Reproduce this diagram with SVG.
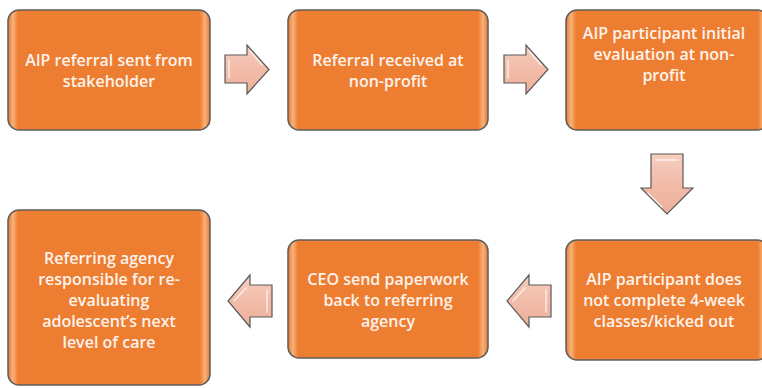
<svg xmlns="http://www.w3.org/2000/svg" width="762" height="388" viewBox="0 0 762 388">
  <defs>
    <linearGradient id="boxFill" x1="0" y1="0" x2="1" y2="0">
      <stop offset="0" stop-color="#E9782E"/>
      <stop offset="0.025" stop-color="#F7B27A"/>
      <stop offset="0.05" stop-color="#ED7D31"/>
      <stop offset="0.95" stop-color="#ED7D31"/>
      <stop offset="0.975" stop-color="#F7B27A"/>
      <stop offset="1" stop-color="#E9782E"/>
    </linearGradient>
    <linearGradient id="arrowFill" x1="0" y1="0" x2="0" y2="1">
      <stop offset="0" stop-color="#F6CDBE"/>
      <stop offset="0.5" stop-color="#F2BCA9"/>
      <stop offset="1" stop-color="#EDB09B"/>
    </linearGradient>
  </defs>
  <style>
    .box { fill: url(#boxFill); stroke: #5E5E5E; stroke-width: 1.5; }
    .arrow { fill: url(#arrowFill); stroke: #595959; stroke-width: 1.2; stroke-linejoin: miter; }
    .shine { fill: none; stroke: #FFFFFF; stroke-opacity: 0.7; stroke-width: 1.5; stroke-linecap: round; }
    .label { font-family: "Open Sans", "Liberation Sans", sans-serif; font-size: 16px; font-weight: 600; fill: #FDF3EC; text-anchor: middle; }
  </style>

  <!-- process steps -->
  <g id="step1">
    <rect class="box" x="8" y="10" width="202" height="120" rx="11"/>
    <text class="label" x="109" y="66">AIP referral sent from</text>
    <text class="label" x="109" y="87">stakeholder</text>
  </g>
  <g id="step2">
    <rect class="box" x="288" y="10" width="200" height="120" rx="11"/>
    <text class="label" x="388" y="66">Referral received at</text>
    <text class="label" x="388" y="87">non-profit</text>
  </g>
  <g id="step3">
    <rect class="box" x="566" y="10" width="202" height="120" rx="11"/>
    <text class="label" x="664" y="39">AIP participant initial</text>
    <text class="label" x="664" y="60">evaluation at non-</text>
    <text class="label" x="664" y="81">profit</text>
  </g>
  <g id="step4">
    <rect class="box" x="566" y="240" width="202" height="120" rx="11"/>
    <text class="label" x="664" y="285">AIP participant does</text>
    <text class="label" x="664" y="306">not complete 4-week</text>
    <text class="label" x="664" y="327">classes/kicked out</text>
  </g>
  <g id="step5">
    <rect class="box" x="288" y="240" width="200" height="118" rx="11"/>
    <text class="label" x="388" y="285">CEO send paperwork</text>
    <text class="label" x="388" y="306">back to referring</text>
    <text class="label" x="388" y="327">agency</text>
  </g>
  <g id="step6">
    <rect class="box" x="8" y="210" width="202" height="175" rx="11"/>
    <text class="label" x="109" y="264">Referring agency</text>
    <text class="label" x="109" y="285">responsible for re-</text>
    <text class="label" x="109" y="306">evaluating</text>
    <text class="label" x="109" y="327">adolescent’s next</text>
    <text class="label" x="109" y="348">level of care</text>
  </g>

  <!-- connectors: block arrows -->
  <g id="connectors">
    <g>
      <path class="arrow" d="M225 55 H247 V45 L269 69.5 L247 94 V83 H225 Z"/>
      <path class="shine" d="M229 60 V78 M250 51 L262 65"/>
    </g>
    <g>
      <path class="arrow" d="M504 55 H526 V45 L548 69.5 L526 94 V83 H504 Z"/>
      <path class="shine" d="M508 60 V78 M529 51 L541 65"/>
    </g>
    <g>
      <path class="arrow" d="M651 154 H683 V188 H693 L667 214 L641 188 H651 Z"/>
      <path class="shine" d="M656 160 H678 M648 193 L662 207"/>
    </g>
    <g>
      <path class="arrow" d="M551 285 H529 V275 L507 301 L529 327 V317 H551 Z"/>
      <path class="shine" d="M546 290 V312 M513 301 L525 288"/>
    </g>
    <g>
      <path class="arrow" d="M272 285 H250 V275 L228 301 L250 327 V317 H272 Z"/>
      <path class="shine" d="M267 290 V312 M234 301 L246 288"/>
    </g>
  </g>
</svg>
